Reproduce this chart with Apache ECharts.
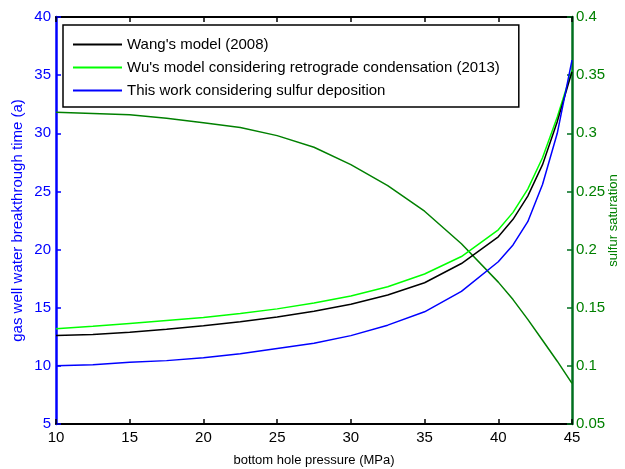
<!DOCTYPE html>
<html>
<head>
<meta charset="utf-8">
<script src="https://cdn.jsdelivr.net/npm/echarts@6/dist/echarts.min.js"></script>
<style>
  html, body { margin: 0; padding: 0; background: #fff; }
  #chart { width: 625px; height: 469px; }
</style>
</head>
<body>
<div id="chart"></div>
<script>
// bottom hole pressure (MPa)
const pressure = [10, 12.5, 15, 17.5, 20, 22.5, 25, 27.5, 30, 32.5, 35, 37.5, 40, 41, 42, 43, 44, 45];

// breakthrough time (a)
const wangModel = [12.6, 12.7, 12.9, 13.15, 13.45, 13.8, 14.2, 14.7, 15.3, 16.1, 17.15, 18.8, 21.1, 22.6, 24.6, 27.3, 31.0, 35.3];
const wuModel = [13.2, 13.4, 13.65, 13.9, 14.15, 14.5, 14.9, 15.4, 16.0, 16.8, 17.9, 19.4, 21.7, 23.2, 25.2, 27.9, 31.4, 35.4];
const thisWork = [10.0, 10.1, 10.3, 10.45, 10.7, 11.05, 11.5, 11.95, 12.6, 13.5, 14.65, 16.4, 18.95, 20.4, 22.4, 25.6, 30.0, 36.3];

// sulfur saturation (right axis)
const sulfurSat = [0.318, 0.317, 0.316, 0.313, 0.309, 0.305, 0.298, 0.288, 0.273, 0.255, 0.233, 0.205, 0.172, 0.157, 0.140, 0.122, 0.104, 0.085];

const legendNames = [
    "Wang's model (2008)",
    "Wu's model considering retrograde condensation (2013)",
    'This work considering sulfur deposition'
];

const FONT = "'Liberation Sans', Arial, sans-serif";
const pairs = (ys) => pressure.map((x, i) => [x, ys[i]]);

const chart = echarts.init(document.getElementById('chart'));

chart.setOption({
    animation: false,
    backgroundColor: '#fff',
    textStyle: { fontFamily: FONT },
    grid: { left: 56, right: 53, top: 17, bottom: 45, containLabel: false, outerBoundsMode: 'none' },
    legend: {
        data: legendNames,
        orient: 'vertical',
        left: 63,
        top: 25,
        padding: [11, 19, 8, 10],
        itemGap: 6,
        itemWidth: 49,
        itemHeight: 2,
        backgroundColor: '#fff',
        borderColor: '#000',
        borderWidth: 1.5,
        icon: 'rect',
        textStyle: { fontFamily: FONT, fontSize: 15, color: '#000', lineHeight: 17 }
    },
    xAxis: [{
        type: 'value',
        min: 10, max: 45, interval: 5,
        name: 'bottom hole pressure (MPa)',
        nameLocation: 'middle',
        nameGap: 30,
        nameMoveOverlap: false,
        nameTextStyle: { fontFamily: FONT, fontSize: 13, color: '#000' },
        axisLine: { lineStyle: { color: '#000', width: 2 } },
        axisTick: { inside: true, length: 5, lineStyle: { color: '#000', width: 1.5 } },
        axisLabel: { fontFamily: FONT, fontSize: 15, color: '#000', margin: 6 },
        splitLine: { show: false }
    }, {
        type: 'value',
        position: 'top',
        min: 10, max: 45, interval: 5,
        axisLine: { show: true, lineStyle: { color: '#000', width: 2 } },
        axisTick: { inside: true, length: 5, lineStyle: { color: '#000', width: 1.5 } },
        axisLabel: { show: false },
        splitLine: { show: false }
    }],
    yAxis: [{
        type: 'value',
        min: 5, max: 40, interval: 5,
        name: 'gas well water breakthrough time (a)',
        nameLocation: 'middle',
        nameGap: 31,
        nameRotate: 90,
        nameMoveOverlap: false,
        nameTextStyle: { fontFamily: FONT, fontSize: 15, color: '#0000ff' },
        axisLine: { show: true, lineStyle: { color: '#0000ff', width: 2.5 } },
        axisTick: { inside: true, length: 5, lineStyle: { color: '#0000ff', width: 1.5 } },
        axisLabel: { fontFamily: FONT, fontSize: 15, color: '#0000ff', margin: 5 },
        splitLine: { show: false }
    }, {
        type: 'value',
        position: 'right',
        min: 0.05, max: 0.4, interval: 0.05,
        name: 'sulfur saturation',
        nameLocation: 'middle',
        nameGap: 35,
        nameRotate: 90,
        nameMoveOverlap: false,
        nameTextStyle: { fontFamily: FONT, fontSize: 13, color: '#008000' },
        axisLine: { show: true, lineStyle: { color: '#006f1f', width: 2.5 } },
        axisTick: { inside: true, length: 5, lineStyle: { color: '#006f1f', width: 1.5 } },
        axisLabel: {
            fontFamily: FONT, fontSize: 15, color: '#008000', margin: 4,
            formatter: (v) => String(+v.toFixed(2))
        },
        splitLine: { show: false }
    }],
    series: [{
        name: legendNames[0],
        type: 'line',
        data: pairs(wangModel),
        showSymbol: false,
        lineStyle: { color: '#000', width: 1.5 },
        itemStyle: { color: '#000' },
        z: 3
    }, {
        name: legendNames[1],
        type: 'line',
        data: pairs(wuModel),
        showSymbol: false,
        lineStyle: { color: '#00ff00', width: 1.5 },
        itemStyle: { color: '#00ff00' },
        z: 2
    }, {
        name: legendNames[2],
        type: 'line',
        data: pairs(thisWork),
        showSymbol: false,
        lineStyle: { color: '#0000ff', width: 1.5 },
        itemStyle: { color: '#0000ff' },
        z: 4
    }, {
        name: 'sulfur saturation',
        type: 'line',
        yAxisIndex: 1,
        data: pairs(sulfurSat),
        showSymbol: false,
        lineStyle: { color: '#008000', width: 1.5 },
        itemStyle: { color: '#008000' },
        z: 1
    }]
});
</script>
</body>
</html>
